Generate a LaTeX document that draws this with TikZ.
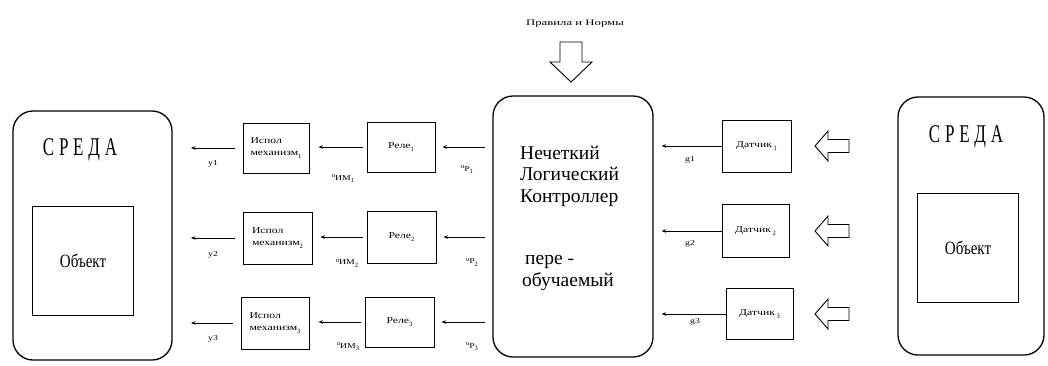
\documentclass[tikz,border=0pt]{standalone}
\usepackage{fontspec}
\setmainfont{Liberation Serif}
\usetikzlibrary{arrows.meta}
\newcommand\widetxt[2][1.3]{\scalebox{#1}[1]{#2}}
\newcommand\subidx[1]{\raisebox{-2.5pt}{\fontsize{6.5}{7}\selectfont #1}}
\newcommand\ulab[2]{\raisebox{2.5pt}{\fontsize{6.5}{7}\selectfont u}\widetxt{#1}\subidx{#2}}
\begin{document}
\begin{tikzpicture}[x=1pt,y=-1pt,
  box/.style={draw, line width=0.9, inner sep=0, align=left, font=\fontsize{9}{12}\selectfont},
  env/.style={draw, line width=1.3, rounded corners=20, inner sep=0},
  objbox/.style={draw, line width=1, minimum width=101, minimum height=109, inner sep=0, font=\fontsize{15}{15}\selectfont},
  sreda/.style={inner sep=0, font=\fontsize{17}{17}\selectfont},
  bigtxt/.style={anchor=west, align=left, inner sep=0, font=\fontsize{19.5}{21.5}\selectfont},
  lab/.style={inner sep=0, font=\fontsize{7.5}{8}\selectfont},
  sig/.style={line width=0.8, -{Stealth[length=4.5pt,width=3.5pt]}},
  hollow/.style={draw, line width=0.9, line join=miter}]
\useasboundingbox (0,0) rectangle (1048,365);

% ---------- left environment ----------
\node[env, minimum width=159, minimum height=249] (envL) at (92.5,235.5) {};
\node[sreda] (sredaL) at (80,150) {\scalebox{1}[1.5]{\addfontfeature{LetterSpace=28}СРЕДА}};
\node[objbox] (objL) at (83,260.5) {\scalebox{1}[1.25]{Объект}};

% ---------- actuators ----------
\node[box, minimum width=66, minimum height=50] (isp1) at (276,148) {\widetxt{Испол}\\\widetxt{механизм}\subidx{1}};
\node[box, minimum width=69, minimum height=52] (isp2) at (277.5,238) {\widetxt{Испол}\\\widetxt{механизм}\subidx{2}};
\node[box, minimum width=68, minimum height=52] (isp3) at (275,323) {\widetxt{Испол}\\\widetxt{механизм}\subidx{3}};

% ---------- relays ----------
\node[box, minimum width=68, minimum height=50] (rele1) at (401,147) {\widetxt{Реле}\subidx{1}};
\node[box, minimum width=69, minimum height=52] (rele2) at (401.5,237) {\widetxt{Реле}\subidx{2}};
\node[box, minimum width=69, minimum height=50] (rele3) at (399.5,322) {\widetxt{Реле}\subidx{3}};

% ---------- controller ----------
\node[env, minimum width=160, minimum height=261] (ctrl) at (573,226.5) {};
\node[bigtxt] (ctrlA) at (520,176) {Нечеткий\\Логический\\Контроллер};
\node[bigtxt] (ctrlB) at (522,273) {\hspace{3pt}пере -\\обучаемый};

% ---------- rules input ----------
\node[inner sep=0, font=\fontsize{8.5}{9}\selectfont] (rules) at (575,24) {\widetxt[1.5]{Правила и Нормы}};
\draw[hollow] (560,42) -- (582,42) -- (582,62) -- (592,62) -- (571,82) -- (550,62) -- (560,62) -- cycle;

% ---------- sensors ----------
\node[box, minimum width=69, minimum height=52] (dat1) at (756.5,146) {\widetxt{Датчик}\,\subidx{1}};
\node[box, minimum width=67, minimum height=53] (dat2) at (755.5,231) {\widetxt{Датчик}\,\subidx{2}};
\node[box, minimum width=67, minimum height=51] (dat3) at (759.5,314) {\widetxt{Датчик}\,\subidx{3}};

% ---------- right environment ----------
\node[env, minimum width=146, minimum height=258] (envR) at (971,226) {};
\node[sreda] (sredaR) at (966,137) {\scalebox{1}[1.5]{\addfontfeature{LetterSpace=28}СРЕДА}};
\node[objbox] (objR) at (968,247.5) {\scalebox{1}[1.25]{Объект}};

% hollow input arrows from environment
\foreach \yc in {146,231,314}{
  \draw[hollow] (849,\yc-6.5) -- (828,\yc-6.5) -- (828,\yc-15) -- (815,\yc)
     -- (828,\yc+15) -- (828,\yc+6.5) -- (849,\yc+6.5) -- cycle;
}

% ---------- free ends ----------
\coordinate (y1e) at (191,148);
\coordinate (y2e) at (191,238);
\coordinate (y3e) at (191,323);

% ---------- connectors ----------
\draw[sig, shorten <=8] (isp1.west) -- (isp1.west -| y1e);
\draw[sig, shorten <=8] (isp2.west) -- (isp2.west -| y2e);
\draw[sig, shorten <=8] (isp3.west) -- (isp3.west -| y3e);

\draw[sig, shorten <=4, shorten >=9] (rele1.west) -- (rele1.west -| isp1.east);
\draw[sig, shorten <=4, shorten >=8] (rele2.west) -- (rele2.west -| isp2.east);
\draw[sig, shorten <=4, shorten >=9] (rele3.west) -- (rele3.west -| isp3.east);

\draw[sig, shorten <=7, shorten >=7] (ctrl.west |- rele1.east) -- (rele1.east);
\draw[sig, shorten <=7, shorten >=7] (ctrl.west |- rele2.east) -- (rele2.east);
\draw[sig, shorten <=7, shorten >=7] (ctrl.west |- rele3.east) -- (rele3.east);

\draw[sig, shorten >=8] (dat1.west) -- (dat1.west -| ctrl.east);
\draw[sig, shorten >=8] (dat2.west) -- (dat2.west -| ctrl.east);
\draw[sig, shorten >=8] (dat3.west) -- (dat3.west -| ctrl.east);

% ---------- labels ----------
\node[lab] (ly1) at (213,164) {\widetxt{y1}};
\node[lab] (ly2) at (213,255) {\widetxt{y2}};
\node[lab] (ly3) at (213,339) {\widetxt{y3}};

\node[lab] (lim1) at (343,179) {\ulab{ИМ}{1}};
\node[lab] (lim2) at (347,263) {\ulab{ИМ}{2}};
\node[lab] (lim3) at (348,347) {\ulab{ИМ}{3}};

\node[lab] (lp1) at (467,170) {\ulab{Р}{1}};
\node[lab] (lp2) at (472,262) {\ulab{Р}{2}};
\node[lab] (lp3) at (472,347) {\ulab{Р}{3}};

\node[lab] (lg1) at (690,160) {\widetxt{g1}};
\node[lab] (lg2) at (690,244) {\widetxt{g2}};
\node[lab] (lg3) at (695,322) {\widetxt{g3}};
\end{tikzpicture}
\end{document}
